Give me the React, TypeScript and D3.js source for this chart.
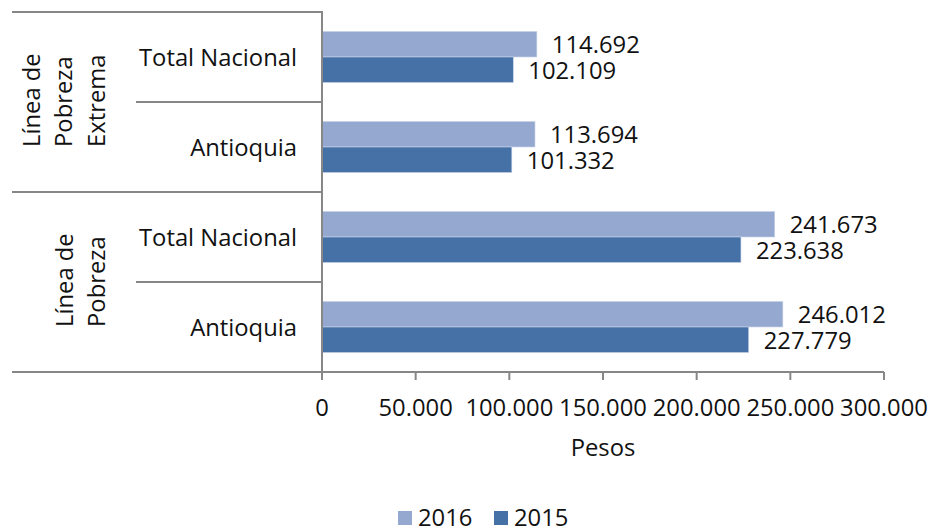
import React from "react";
import * as d3 from "d3";

const categories = ["Total Nacional", "Antioquia", "Total Nacional", "Antioquia"];
const groups = [
  { lines: ["Línea de", "Pobreza", "Extrema"], span: 2 },
  { lines: ["Línea de", "Pobreza"], span: 2 },
];
const series2016 = [114692, 113694, 241673, 246012];
const series2015 = [102109, 101332, 223638, 227779];
const seriesNames = ["2016", "2015"];
const xTicks = [0, 50000, 100000, 150000, 200000, 250000, 300000];
const axisTitle = "Pesos";

const W = 930;
const H = 529;
const FONT = "'Open Sans', 'Noto Sans', sans-serif";
const FS = 23.8;
const C16 = "#94A8D0";
const C15 = "#4571A7";
const LINE = "#878787";

const fmt = (v: number) => d3.format(",")(v).replace(/,/g, ".");

export default function App() {
  const left = 322;
  const right = 884;
  const top = 12;
  const bottom = 372;
  const x = d3.scaleLinear().domain([0, 300000]).range([left, right]);
  const y = d3
    .scaleBand<number>()
    .domain(d3.range(categories.length))
    .range([top, bottom]);
  const barH = 25.5;
  const colors = [C16, C15];
  const data = [series2016, series2015];
  const bw = y.bandwidth();

  let acc = 0;
  const groupInfo = groups.map((g) => {
    const y0 = y(acc)!;
    const y1 = y(acc + g.span - 1)! + bw;
    acc += g.span;
    return { ...g, y0, y1 };
  });

  return (
    <svg width={W} height={H} style={{ position: "absolute", left: 0, top: 0 }} fontFamily={FONT}>
      <rect width={W} height={H} fill="#fff" />
      {categories.map((c, i) => {
        const yc = y(i)! + bw / 2;
        return (
          <g key={i}>
            {data.map((s, k) => {
              const by = yc - barH + k * barH;
              return (
                <g key={k}>
                  <rect
                    x={x(0)}
                    y={by}
                    width={x(s[i]) - x(0)}
                    height={barH}
                    fill={colors[k]}
                    stroke="#c9d3e8"
                    strokeWidth={0.6}
                  />
                  <text
                    x={x(s[i]) + 15}
                    y={by + barH / 2}
                    dominantBaseline="central"
                    fontSize={FS}
                    fill="#111"
                  >
                    {fmt(s[i])}
                  </text>
                </g>
              );
            })}
          </g>
        );
      })}
      {groupInfo.map((g, gi) => (
        <line key={"gt" + gi} x1={12} x2={left} y1={g.y0} y2={g.y0} stroke={LINE} strokeWidth={2} />
      ))}
      <line x1={12} x2={left} y1={bottom} y2={bottom} stroke={LINE} strokeWidth={2} />
      {categories.map((c, i) => {
        if (i === 0) return null;
        const isGroupStart = groupInfo.some((g) => Math.abs(g.y0 - y(i)!) < 0.1);
        if (isGroupStart) return null;
        return (
          <line key={"cl" + i} x1={136} x2={left} y1={y(i)} y2={y(i)} stroke={LINE} strokeWidth={2} />
        );
      })}
      {categories.map((c, i) => (
        <text
          key={"ct" + i}
          x={297}
          y={y(i)! + bw / 2}
          textAnchor="end"
          dominantBaseline="central"
          fontSize={FS}
          fill="#111"
        >
          {c}
        </text>
      ))}
      {groupInfo.map((g, gi) => {
        const n = g.lines.length;
        const cx = n === 3 ? 63 : 80;
        const cy = (g.y0 + g.y1) / 2;
        const startY = n === 3 ? 147 - g.y0 + g.y0 : cy + 45;
        return (
          <g key={"gl" + gi}>
            {g.lines.map((ln, li) => (
              <text
                key={li}
                transform={`translate(${cx + (li - (n - 1) / 2) * 32.5},${n === 3 ? startY : cy + 45}) rotate(-90)`}
                textAnchor="start"
                dominantBaseline="central"
                fontSize={FS}
                fill="#111"
              >
                {ln}
              </text>
            ))}
          </g>
        );
      })}
      <line x1={left} x2={right} y1={bottom} y2={bottom} stroke={LINE} strokeWidth={2} />
      <line x1={left} x2={left} y1={top - 1} y2={bottom + 8} stroke={LINE} strokeWidth={2} />
      {xTicks.map((t) => (
        <g key={t}>
          <line x1={x(t)} x2={x(t)} y1={bottom} y2={bottom + 8} stroke={LINE} strokeWidth={2} />
          <text x={x(t)} y={407} textAnchor="middle" dominantBaseline="central" fontSize={FS} fill="#111">
            {fmt(t)}
          </text>
        </g>
      ))}
      <text x={(left + right) / 2} y={447} textAnchor="middle" dominantBaseline="central" fontSize={FS} fill="#111">
        {axisTitle}
      </text>
      {seriesNames.map((nm, k) => (
        <g key={nm} transform={`translate(${398 + k * 96},0)`}>
          <rect x={0} y={511} width={14} height={14} fill={colors[k]} />
          <text x={20} y={517} dominantBaseline="central" fontSize={FS} fill="#111">
            {nm}
          </text>
        </g>
      ))}
    </svg>
  );
}
